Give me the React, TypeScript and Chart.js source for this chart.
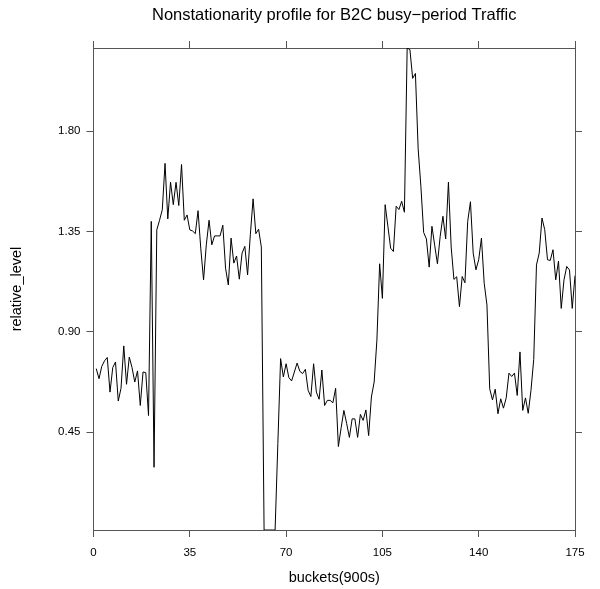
import { useEffect, useRef } from "react";
import { Chart, registerables } from "chart.js";

Chart.register(...registerables);

const chartTitle = "Nonstationarity profile for B2C busy\u2212period Traffic";
const xTitle = "buckets(900s)";
const yTitle = "relative_level";

const buckets = Array.from({ length: 175 }, (_, k) => k + 1);

const relativeLevel = [
  0.735, 0.69, 0.745, 0.77, 0.785, 0.63, 0.74, 0.765, 0.59, 0.647,
  0.837, 0.665, 0.787, 0.74, 0.675, 0.725, 0.57, 0.72, 0.717, 0.525,
  1.395, 0.293, 1.357, 1.4, 1.447, 1.655, 1.406, 1.571, 1.47, 1.57,
  1.466, 1.65, 1.4, 1.424, 1.357, 1.352, 1.34, 1.443, 1.272, 1.133,
  1.29, 1.4, 1.29, 1.33, 1.33, 1.33, 1.378, 1.185, 1.11, 1.32,
  1.208, 1.24, 1.136, 1.253, 1.283, 1.155, 1.335, 1.496, 1.34, 1.36,
  1.28, 0.012, 0.012, 0.012, 0.012, 0.012, 0.4, 0.78, 0.698, 0.757,
  0.695, 0.68, 0.72, 0.76, 0.723, 0.713, 0.732, 0.638, 0.61, 0.757,
  0.63, 0.598, 0.729, 0.57, 0.593, 0.593, 0.582, 0.647, 0.386, 0.47,
  0.548, 0.49, 0.427, 0.51, 0.51, 0.427, 0.53, 0.503, 0.55, 0.435,
  0.608, 0.675, 0.863, 1.205, 1.05, 1.47, 1.373, 1.275, 1.26, 1.463,
  1.448, 1.485, 1.436, 2.172, 2.165, 2.036, 2.058, 1.72, 1.55, 1.345,
  1.316, 1.19, 1.373, 1.288, 1.205, 1.328, 1.418, 1.316, 1.571, 1.28,
  1.135, 1.147, 1.013, 1.148, 1.12, 1.395, 1.483, 1.253, 1.178, 1.223,
  1.32, 1.118, 1.02, 0.645, 0.595, 0.643, 0.533, 0.6, 0.558, 0.604,
  0.715, 0.7, 0.715, 0.615, 0.81, 0.548, 0.604, 0.535, 0.638, 0.776,
  1.2, 1.253, 1.41, 1.358, 1.223, 1.22, 1.268, 1.133, 1.217, 1.005,
  1.133, 1.193, 1.177, 1.005, 1.152,
];

const xTicks = [0, 35, 70, 105, 140, 175];
const yTicks = [0.45, 0.9, 1.35, 1.8];
const xRange = [0, 175];
const yRange = [0.012, 2.172];

const FRAME = "#555555";
const FONT = "'Liberation Sans', Arial, Helvetica, sans-serif";

export default function App() {
  const canvasRef = useRef<HTMLCanvasElement | null>(null);

  useEffect(() => {
    const canvas = canvasRef.current;
    if (!canvas) return;
    Chart.defaults.font.family = FONT;

    const tickFont = { size: 11.5, family: FONT };
    const gridOpts = {
      drawOnChartArea: false,
      drawTicks: true,
      tickLength: 7,
      color: FRAME,
      lineWidth: 1,
    };
    const borderOpts = { display: true, color: FRAME, width: 1 };

    const chart = new Chart(canvas, {
      type: "line",
      data: {
        datasets: [
          {
            data: buckets.map((b, i) => ({ x: b, y: relativeLevel[i] })),
            borderColor: "#000000",
            borderWidth: 1,
            pointRadius: 0,
            tension: 0,
            fill: false,
          },
        ],
      },
      options: {
        responsive: false,
        animation: false,
        devicePixelRatio: 1,
        layout: { padding: 0 },
        plugins: {
          legend: { display: false },
          tooltip: { enabled: false },
          title: {
            display: true,
            fullSize: false,
            text: chartTitle,
            color: "#000000",
            font: { size: 16.5, weight: "normal", family: FONT },
            padding: { top: 5.1, bottom: 0 },
          },
        },
        scales: {
          x: {
            type: "linear",
            position: "bottom",
            min: xRange[0],
            max: xRange[1],
            afterBuildTicks: (s: any) => {
              s.ticks = xTicks.map((v) => ({ value: v }));
            },
            afterFit: (s: any) => {
              s.height = 59;
            },
            ticks: {
              color: "#000000",
              font: tickFont,
              padding: 9,
              maxRotation: 0,
              autoSkip: false,
              callback: (v: any) => String(v),
            },
            grid: gridOpts,
            border: borderOpts,
            title: {
              display: true,
              text: xTitle,
              color: "#000000",
              font: { size: 14.5, family: FONT },
              padding: { top: 0, bottom: 2.3 },
            },
          },
          x2: {
            type: "linear",
            axis: "x",
            position: "top",
            min: xRange[0],
            max: xRange[1],
            afterBuildTicks: (s: any) => {
              s.ticks = xTicks.map((v) => ({ value: v }));
            },
            afterFit: (s: any) => {
              s.height = 23.1;
            },
            ticks: { display: false },
            grid: gridOpts,
            border: borderOpts,
          },
          y: {
            type: "linear",
            position: "left",
            min: yRange[0],
            max: yRange[1],
            afterBuildTicks: (s: any) => {
              s.ticks = yTicks.map((v) => ({ value: v }));
            },
            afterFit: (s: any) => {
              s.width = 93.5;
            },
            ticks: {
              color: "#000000",
              font: tickFont,
              padding: 6,
              autoSkip: false,
              callback: (v: any) => Number(v).toFixed(2),
            },
            grid: gridOpts,
            border: borderOpts,
            title: {
              display: true,
              text: yTitle,
              color: "#000000",
              font: { size: 14.5, family: FONT },
              padding: { top: 8.3, bottom: 0 },
            },
          },
          y2: {
            type: "linear",
            axis: "y",
            position: "right",
            min: yRange[0],
            max: yRange[1],
            afterBuildTicks: (s: any) => {
              s.ticks = yTicks.map((v) => ({ value: v }));
            },
            afterFit: (s: any) => {
              s.width = 25;
            },
            ticks: { display: false },
            grid: gridOpts,
            border: borderOpts,
          },
        },
      },
    } as any);

    return () => {
      chart.destroy();
    };
  }, []);

  return (
    <div
      style={{
        position: "absolute",
        left: 0,
        top: 0,
        width: 600,
        height: 589,
        background: "#ffffff",
      }}
    >
      <canvas
        ref={canvasRef}
        width={600}
        height={589}
        style={{ width: 600, height: 589, display: "block" }}
      />
    </div>
  );
}
